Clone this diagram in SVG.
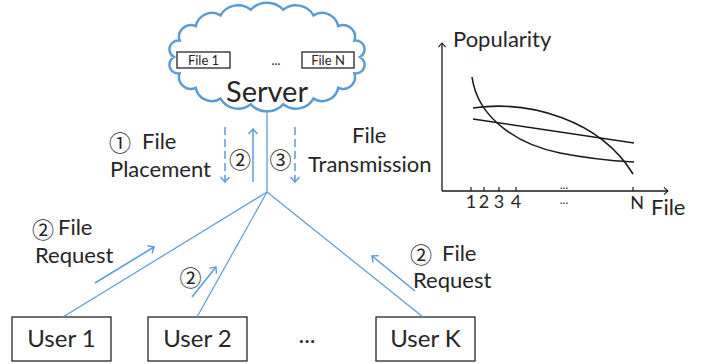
<svg xmlns="http://www.w3.org/2000/svg" width="710" height="364" viewBox="0 0 710 364">
<defs>
<style>
.t{font-family:Lato,"Liberation Sans",sans-serif;fill:#262626}
.c{font-family:"Noto Sans CJK SC","DejaVu Sans",sans-serif;fill:#262626;font-size:22px;text-anchor:middle;dominant-baseline:central}
.blue{stroke:#5b9bd5;fill:none}
.blk{stroke:#1a1a1a;fill:none}
.box{fill:#fff;stroke:#262626;stroke-width:1.3}
</style>
<marker id="ab" viewBox="0 0 10 10" refX="9" refY="5" markerWidth="10" markerHeight="10" markerUnits="userSpaceOnUse" orient="auto"><path d="M4,0.5 L9,5 L4,9.5" fill="none" stroke="#5b9bd5" stroke-width="1.4"/></marker>
<marker id="ak" viewBox="0 0 10 10" refX="9" refY="5" markerWidth="9" markerHeight="9" markerUnits="userSpaceOnUse" orient="auto"><path d="M4.5,1 L9,5 L4.5,9" fill="none" stroke="#1a1a1a" stroke-width="1.2"/></marker>
</defs>
<rect width="710" height="364" fill="#fff"/>

<g id="server">
<path class="blue" stroke-width="2.5" fill="#fff" d="M360,57 A8.8,8.8 0 0 1 354.4,73.4 A11.9,11.9 0 0 1 338.2,87.9 A16.4,16.4 0 0 1 313.5,98.6 A20.4,20.4 0 0 1 283.2,104.3 A22.2,22.2 0 0 1 250.8,104.3 A20.4,20.4 0 0 1 220.5,98.6 A16.4,16.4 0 0 1 195.8,87.9 A11.9,11.9 0 0 1 179.6,73.4 A8.8,8.8 0 0 1 174,57 A8.8,8.8 0 0 1 179.6,40.6 A11.9,11.9 0 0 1 195.8,26.1 A16.4,16.4 0 0 1 220.5,15.4 A20.4,20.4 0 0 1 250.8,9.7 A22.2,22.2 0 0 1 283.2,9.7 A20.4,20.4 0 0 1 313.5,15.4 A16.4,16.4 0 0 1 338.2,26.1 A11.9,11.9 0 0 1 354.4,40.6 A8.8,8.8 0 0 1 360,57 Z"/>
<rect class="box" x="177" y="52" width="53" height="16"/>
<text class="t" x="203.5" y="65" font-size="13" text-anchor="middle">File 1</text>
<rect class="box" x="302" y="52" width="52" height="16"/>
<text class="t" x="328" y="65" font-size="13" text-anchor="middle">File N</text>
<text class="t" x="276" y="65" font-size="13" text-anchor="middle">...</text>
<text class="t" x="267" y="102" font-size="29" text-anchor="middle">Server</text>
</g>

<g id="user1"><rect class="box" x="12" y="317" width="99" height="44"/><text class="t" x="61.5" y="347" font-size="24" text-anchor="middle">User 1</text></g>
<g id="user2"><rect class="box" x="148" y="317" width="99" height="44"/><text class="t" x="197.5" y="347" font-size="24" text-anchor="middle">User 2</text></g>
<g id="userK"><rect class="box" x="376" y="317" width="99" height="44"/><text class="t" x="425.5" y="347" font-size="24" text-anchor="middle">User K</text></g>
<text class="t" x="307" y="343" font-size="24" text-anchor="middle">...</text>

<g id="connectors">
<line class="blue" stroke-width="1.3" x1="267" y1="110" x2="267" y2="192"/>
<line class="blue" stroke-width="1.2" x1="267" y1="192" x2="63" y2="317"/>
<line class="blue" stroke-width="1.2" x1="267" y1="192" x2="197" y2="317"/>
<line class="blue" stroke-width="1.2" x1="267" y1="192" x2="423" y2="317"/>
<line class="blue" stroke-width="1.5" stroke-dasharray="8,4" x1="225" y1="127" x2="225" y2="182" marker-end="url(#ab)"/>
<line class="blue" stroke-width="1.5" x1="253" y1="182" x2="253" y2="129" marker-end="url(#ab)"/>
<line class="blue" stroke-width="1.5" stroke-dasharray="8,4" x1="295" y1="127" x2="295" y2="182" marker-end="url(#ab)"/>
<line class="blue" stroke-width="1.5" x1="95" y1="283" x2="154" y2="247" marker-end="url(#ab)"/>
<line class="blue" stroke-width="1.5" x1="192" y1="297" x2="216" y2="267" marker-end="url(#ab)"/>
<line class="blue" stroke-width="1.5" x1="415" y1="291" x2="372" y2="256" marker-end="url(#ab)"/>
</g>

<g id="labels">
<text class="c" x="120" y="141">①</text>
<text class="t" x="142" y="149" font-size="22">File</text>
<text class="t" x="110" y="177" font-size="22">Placement</text>
<text class="c" x="240" y="157.5">②</text>
<text class="c" x="280.5" y="157.5">③</text>
<text class="t" x="352" y="143" font-size="22">File</text>
<text class="t" x="308" y="172" font-size="22">Transmission</text>
<text class="c" x="43" y="227.5">②</text>
<text class="t" x="58" y="235" font-size="22">File</text>
<text class="t" x="35" y="263" font-size="22">Request</text>
<text class="c" x="190.5" y="276">②</text>
<text class="c" x="421" y="253">②</text>
<text class="t" x="442" y="261" font-size="22">File</text>
<text class="t" x="413" y="288" font-size="22">Request</text>
</g>

<g id="chart">
<line class="blk" stroke-width="1.3" x1="442" y1="191" x2="442" y2="43" marker-end="url(#ak)"/>
<line class="blk" stroke-width="1.3" x1="442" y1="191" x2="668" y2="191" marker-end="url(#ak)"/>
<path class="blk" stroke-width="1.2" d="M471,187V191M484,187V191M499,187V191M516,187V191M633,187V191"/>
<path class="blk" stroke-width="1.6" d="M472,77 C478,120 520,145 560,153 C590,159 615,161 634,162"/>
<path class="blk" stroke-width="1.6" d="M473,108 C530,100 600,120 633,174"/>
<path class="blk" stroke-width="1.6" d="M473,119 L634,143"/>
<text class="t" x="453" y="47" font-size="22">Popularity</text>
<text class="t" x="471" y="208" font-size="18" text-anchor="middle">1</text>
<text class="t" x="484" y="208" font-size="18" text-anchor="middle">2</text>
<text class="t" x="499" y="208" font-size="18" text-anchor="middle">3</text>
<text class="t" x="516" y="208" font-size="18" text-anchor="middle">4</text>
<text class="t" x="637" y="209" font-size="18" text-anchor="middle">N</text>
<text class="t" x="564" y="189" font-size="12" text-anchor="middle">...</text>
<text class="t" x="564" y="204" font-size="12" text-anchor="middle">...</text>
<text class="t" x="651" y="215" font-size="22">File</text>
</g>
</svg>
